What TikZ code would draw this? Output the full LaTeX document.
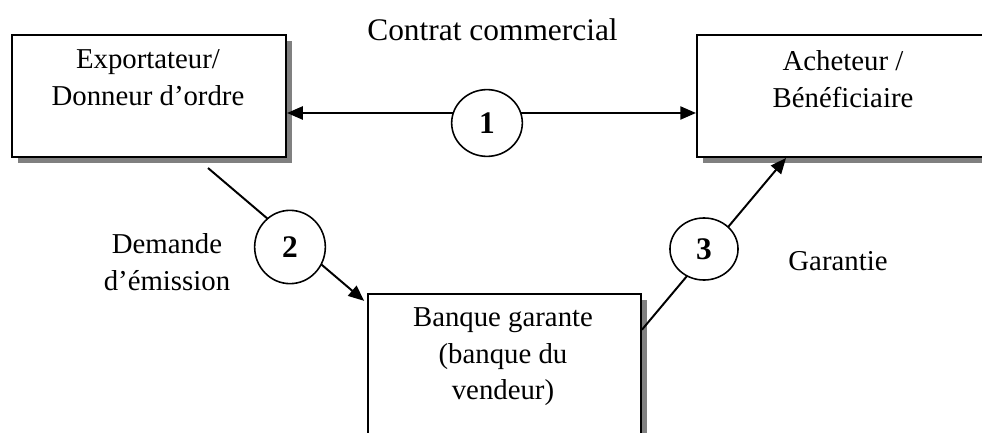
\documentclass[tikz,border=0pt]{standalone}
\usepackage{fontspec}
\setmainfont{Liberation Serif}
\usetikzlibrary{
  shapes.geometric,
  shadows,
  arrows.meta
}
\tikzset{
  block/.style={
    draw,
    line width=0.75pt,
    fill=white,
    inner sep=0pt,
    anchor=north west,
    drop shadow={shadow xshift=2.2pt, shadow yshift=-2.2pt, fill=gray, opacity=1}
  },
  txt/.style={
    font=\fontsize{11}{14}\selectfont,
    align=center,
    inner sep=0pt,
    anchor=north
  },
  num/.style={
    draw,
    ellipse,
    line width=0.6pt,
    fill=white,
    inner sep=0pt,
    minimum width=27pt,
    minimum height=25.5pt,
    font=\fontsize{12}{14}\selectfont\bfseries
  },
  flow/.style={
    line width=0.75pt,
    >={Triangle[length=6pt, width=5pt]}
  }
}
\begin{document}
\begin{tikzpicture}[x=0.382pt, y=-0.382pt]
  \path[use as bounding box, clip] (0,0) rectangle (982,433);

  % the three parties
  \node[block, minimum width=104.7pt, minimum height=46.6pt] (expo) at (11,34) {};
  \node[block, minimum width=112.3pt, minimum height=46.6pt] (acht) at (696,34) {};
  \node[block, minimum width=104.3pt, minimum height=61pt] (bank) at (367,293) {};
  \node[txt] (expotxt) at (148,49) {Exportateur/\\Donneur d’ordre};
  \node[txt] (achttxt) at (843,50) {Acheteur /\\Bénéficiaire};
  \node[txt] (banktxt) at (503,307) {Banque garante\\(banque du\\vendeur)};

  % flows
  \coordinate (dem) at (208,168);
  \draw[flow, <->] ([yshift=-6.5pt]expo.east) -- ([yshift=-6.5pt]acht.west);
  \draw[flow, ->] (dem) -- ([shift={(-1.1pt,-3pt)}]bank.north west);
  \draw[flow, ->] ([yshift=-14pt]bank.north east) -- ([xshift=34.4pt]acht.south west);

  \node[num] (n1) at (487,123) {1};
  \node[num, minimum height=28pt] (n2) at (290,247) {2};
  \node[num, minimum width=26pt, minimum height=23.7pt] (n3) at (704,249) {3};

  \node[txt, font=\fontsize{12}{14}\selectfont] (contrat) at (492.5,18.5) {Contrat commercial};
  \node[txt] (demande) at (167,233) {Demande\\d’émission};
  \node[txt] (garantie) at (838,251) {Garantie};
\end{tikzpicture}
\end{document}
